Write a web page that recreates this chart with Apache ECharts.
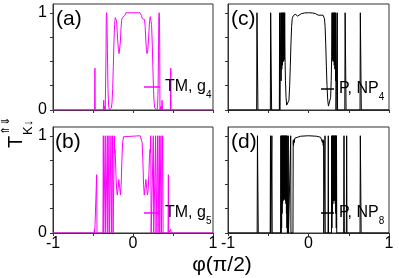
<!DOCTYPE html>
<html><head><meta charset="utf-8">
<script src="https://cdn.jsdelivr.net/npm/echarts@6/dist/echarts.min.js"></script>
<style>html,body{margin:0;padding:0;background:#fff}#c{width:399px;height:278px}</style>
</head><body><div id="c"></div>
<script>
// ---- data ----
const xTickValues = [-1, -0.5, 0, 0.5, 1];
const xLabelValues = [-1, 0, 1];
const yTickValues = [0, 0.25, 0.5, 0.75, 1];
const yLabelValues = [0, 1];
const panelLetters = ['(a)', '(c)', '(b)', '(d)'];
const seriesNames = ['TM, g4', 'P, NP4', 'TM, g5', 'P, NP8'];
const legendMain = ['TM, g', 'P, NP', 'TM, g', 'P, NP'];
const legendSub = ['4', '4', '5', '8'];

// panel (a): TM, g4
const ptsA = [[-1,0],[-0.480,0],[-0.476,0.43],[-0.472,0],[-0.372,0],[-0.366,0.10],[-0.361,0],[-0.354,0.04],[-0.347,0],[-0.340,0],[-0.337,0.6],[-0.334,0.96],[-0.330,1.0],[-0.326,0.97],[-0.320,0.62],[-0.313,0.22],[-0.305,0.05],[-0.296,0],[-0.282,0],[-0.270,0.02],[-0.262,0.08],[-0.254,0.22],[-0.246,0.45],[-0.238,0.7],[-0.230,0.88],[-0.222,0.95],[-0.214,0.96],[-0.206,0.92],[-0.198,0.82],[-0.190,0.7],[-0.182,0.62],[-0.174,0.58],[-0.166,0.6],[-0.158,0.7],[-0.150,0.84],[-0.142,0.92],[-0.134,0.95],[-0.124,0.94],[-0.114,0.94],[-0.104,0.97],[-0.096,0.99],[-0.088,1.0],[0.088,1.0],[0.096,0.99],[0.106,0.97],[0.116,0.94],[0.126,0.94],[0.136,0.95],[0.144,0.93],[0.152,0.86],[0.160,0.72],[0.168,0.62],[0.176,0.58],[0.184,0.61],[0.192,0.7],[0.200,0.82],[0.208,0.92],[0.216,0.96],[0.224,0.95],[0.232,0.88],[0.240,0.7],[0.248,0.45],[0.256,0.22],[0.264,0.08],[0.272,0.02],[0.284,0],[0.300,0],[0.308,0.05],[0.314,0.22],[0.319,0.62],[0.323,0.97],[0.327,1.0],[0.331,0.96],[0.334,0.6],[0.337,0],[0.344,0],[0.351,0.04],[0.358,0],[0.363,0.10],[0.369,0],[0.468,0],[0.472,0.43],[0.476,0],[1,0]];

// panel (b): TM, g5
const ptsB = [[-1,0],[-0.486,0],[-0.482,0.04],[-0.478,0],[-0.458,0],[-0.454,0.6],[-0.450,0],[-0.376,0],[-0.371,1],[-0.366,0],[-0.352,0],[-0.347,1],[-0.342,0],[-0.326,0],[-0.321,1],[-0.316,0],[-0.305,0],[-0.300,1],[-0.295,0],[-0.280,0],[-0.275,1],[-0.270,0],[-0.259,0],[-0.254,1],[-0.249,0],[-0.238,0],[-0.233,1],[-0.229,0.82],[-0.225,0.86],[-0.220,0.78],[-0.213,0.6],[-0.205,0.45],[-0.196,0.39],[-0.186,0.46],[-0.177,0.55],[-0.167,0.47],[-0.157,0.39],[-0.148,0.5],[-0.139,0.75],[-0.130,0.93],[-0.118,0.99],[-0.105,1],[0.090,1],[0.102,0.99],[0.114,0.93],[0.123,0.75],[0.132,0.5],[0.141,0.39],[0.151,0.47],[0.161,0.55],[0.171,0.46],[0.181,0.39],[0.190,0.45],[0.198,0.6],[0.206,0.78],[0.213,0.86],[0.217,0.82],[0.222,1],[0.227,0],[0.249,0],[0.254,1],[0.259,0],[0.278,0],[0.283,1],[0.288,0],[0.303,0],[0.308,1],[0.313,0],[0.324,0],[0.329,1],[0.334,0],[0.345,0],[0.350,1],[0.355,0],[0.366,0],[0.371,1],[0.376,0],[0.438,0],[0.442,0.6],[0.446,0],[0.468,0],[0.472,0.04],[0.476,0],[1,0]];

// panel (c): P, NP4
const ptsC = [[-1,0],[-0.644,0],[-0.640,1],[-0.632,1],[-0.628,0],[-0.474,0],[-0.470,1],[-0.462,1],[-0.458,0],[-0.362,0],[-0.359,1],[-0.356,0],[-0.346,0],[-0.343,1],[-0.340,0.3],[-0.336,1],[-0.332,0.42],[-0.328,1],[-0.324,0.46],[-0.320,1],[-0.316,0.5],[-0.312,1],[-0.308,0.5],[-0.304,1],[-0.300,0.52],[-0.296,1],[-0.292,0.55],[-0.286,0.3],[-0.279,0.13],[-0.271,0.05],[-0.262,0.03],[-0.252,0.04],[-0.243,0.1],[-0.234,0.25],[-0.226,0.45],[-0.218,0.68],[-0.210,0.86],[-0.202,0.94],[-0.192,0.965],[-0.180,0.975],[-0.165,0.985],[-0.150,0.975],[-0.135,0.965],[-0.120,0.975],[-0.090,0.99],[-0.050,0.998],[0,1],[0.050,0.998],[0.090,0.99],[0.120,0.975],[0.140,0.965],[0.155,0.975],[0.168,0.985],[0.180,0.975],[0.190,0.965],[0.198,0.94],[0.206,0.86],[0.214,0.68],[0.222,0.45],[0.230,0.25],[0.239,0.1],[0.248,0.04],[0.258,0.03],[0.267,0.05],[0.275,0.13],[0.282,0.3],[0.288,0.55],[0.292,1],[0.296,0.52],[0.300,1],[0.304,0.5],[0.308,1],[0.312,0.5],[0.316,1],[0.320,0.46],[0.324,1],[0.328,0.42],[0.332,1],[0.336,0.3],[0.339,1],[0.342,0],[0.355,0],[0.358,1],[0.361,0],[0.451,0],[0.455,1],[0.463,1],[0.467,0],[0.640,0],[0.644,1],[0.652,1],[0.656,0],[1,0]];

// panel (d): P, NP8
const ptsD = [[-1,0],[-0.638,0],[-0.634,1],[-0.628,1],[-0.624,0],[-0.476,0],[-0.472,1],[-0.468,0],[-0.458,0],[-0.455,1],[-0.451,0],[-0.346,0],[-0.343,1],[-0.340,0],[-0.337,1],[-0.334,0.05],[-0.331,1],[-0.328,0.2],[-0.325,1],[-0.322,0.3],[-0.319,1],[-0.316,0.33],[-0.313,1],[-0.310,0.34],[-0.307,1],[-0.304,0.35],[-0.301,1],[-0.298,0.35],[-0.295,1],[-0.292,0.34],[-0.289,1],[-0.286,0.33],[-0.283,1],[-0.280,0.3],[-0.277,1],[-0.274,0.2],[-0.271,1],[-0.268,0.05],[-0.265,1],[-0.262,0],[-0.254,0],[-0.251,1],[-0.248,0],[-0.224,0],[-0.221,1],[-0.218,0],[-0.193,0],[-0.190,0.95],[-0.186,0.9],[-0.182,0.96],[-0.177,0.93],[-0.170,0.975],[-0.150,0.985],[-0.100,0.995],[0,1],[0.100,0.995],[0.150,0.985],[0.167,0.975],[0.174,0.93],[0.179,0.96],[0.183,0.9],[0.187,0.95],[0.190,0],[0.202,0],[0.205,1],[0.208,0],[0.243,0],[0.246,1],[0.249,0],[0.285,0],[0.288,1],[0.291,0.05],[0.294,1],[0.297,0.2],[0.300,1],[0.303,0.3],[0.306,1],[0.309,0.33],[0.312,1],[0.315,0.34],[0.318,1],[0.321,0.34],[0.324,1],[0.327,0.33],[0.330,1],[0.333,0.3],[0.336,1],[0.339,0.2],[0.342,1],[0.345,0.05],[0.348,1],[0.351,0],[0.437,0],[0.441,1],[0.445,0],[0.470,0],[0.474,1],[0.478,0],[0.640,0],[0.644,1],[0.650,1],[0.654,0],[1,0]];

const panelData = [ptsA, ptsC, ptsB, ptsD];
const panelColors = ['#ff00ff', '#000000', '#ff00ff', '#000000'];

// ---- layout ----
const FONT = '"Liberation Sans", Arial, sans-serif';
const grids = [
  {left: 53, top: 4, width: 160, height: 106},
  {left: 228, top: 4, width: 161, height: 106},
  {left: 53, top: 127, width: 160, height: 106},
  {left: 228, top: 127, width: 161, height: 106}
];
const isBottom = [false, false, true, true];
const isLeft = [true, false, true, false];
const legendPos = [
  {left: 144, top: 79, itemWidth: 16},
  {left: 321, top: 81, itemWidth: 13},
  {left: 144, top: 205, itemWidth: 16},
  {left: 321, top: 205, itemWidth: 13}
];
const letterPos = [[56, 9], [231, 9], [55, 132], [231, 132]];

const axisColor = '#333';
const option = {
  animation: false,
  backgroundColor: '#fff',
  textStyle: {fontFamily: FONT},
  grid: grids.map(g => Object.assign({show: true, borderColor: axisColor, borderWidth: 1, backgroundColor: 'transparent'}, g)),
  xAxis: grids.map((g, i) => ({
    gridIndex: i, type: 'value', min: -1, max: 1, interval: 0.5,
    axisLine: {show: true, onZero: false, lineStyle: {color: axisColor, width: 1}},
    axisTick: {show: true, length: 3, customValues: xTickValues, lineStyle: {color: axisColor}},
    axisLabel: {show: isBottom[i], customValues: xLabelValues, margin: 3, fontSize: 16, color: '#000', fontFamily: FONT,
      formatter: v => String(v)},
    splitLine: {show: false}
  })),
  yAxis: grids.map((g, i) => ({
    gridIndex: i, type: 'value', min: 0, max: 1.09,
    axisLine: {show: true, onZero: false, lineStyle: {color: axisColor, width: 1}},
    axisTick: {show: true, length: 3, customValues: yTickValues, lineStyle: {color: axisColor}},
    axisLabel: {show: isLeft[i], customValues: yLabelValues, margin: 6, fontSize: 16, color: '#000', fontFamily: FONT,
      formatter: v => String(v)},
    splitLine: {show: false}
  })),
  legend: legendPos.map((p, i) => ({
    data: [seriesNames[i]], left: p.left, top: p.top, padding: 0,
    itemWidth: p.itemWidth, itemHeight: 1.5, icon: 'rect', selectedMode: false,
    formatter: () => '{m|' + legendMain[i] + '}{s|' + legendSub[i] + '}',
    textStyle: {
      color: '#000', fontFamily: FONT,
      rich: {
        m: {fontSize: 16, lineHeight: 26, fontFamily: FONT, color: '#000'},
        s: {fontSize: 10, verticalAlign: 'bottom', fontFamily: FONT, color: '#000'}
      }
    }
  })),
  series: panelData.map((d, i) => ({
    name: seriesNames[i], type: 'line', xAxisIndex: i, yAxisIndex: i,
    data: d, showSymbol: false, symbol: 'none', smooth: false,
    lineStyle: {color: panelColors[i], width: 1},
    itemStyle: {color: panelColors[i]},
    clip: true
  })),
  graphic: [
    ...letterPos.map((p, i) => ({
      type: 'text', x: p[0], y: p[1],
      style: {text: panelLetters[i], fontSize: 21, fontFamily: FONT, fill: '#000', verticalAlign: 'top'}
    })),
    {type: 'text', x: 222, y: 255,
      style: {text: 'φ(π/2)', fontSize: 21, fontFamily: FONT, fill: '#000', align: 'center', verticalAlign: 'top'}},
    {type: 'group', x: 16, y: 148, rotation: Math.PI / 2, children: [
      {type: 'text', x: 0, y: 0, style: {text: 'T', fontSize: 20, fontFamily: FONT, fill: '#000', align: 'left', verticalAlign: 'middle'}},
      {type: 'text', x: 13, y: -10, style: {text: '⇑⇓', fontSize: 11, fontFamily: '"DejaVu Sans", sans-serif', fill: '#000', align: 'left', verticalAlign: 'middle'}},
      {type: 'text', x: 13, y: 12, style: {text: 'K↓', fontSize: 13, fontFamily: FONT, fill: '#000', align: 'left', verticalAlign: 'middle'}}
    ]}
  ]
};
const chart = echarts.init(document.getElementById('c'), null, {renderer: 'canvas'});
chart.setOption(option);
</script>
</body></html>
